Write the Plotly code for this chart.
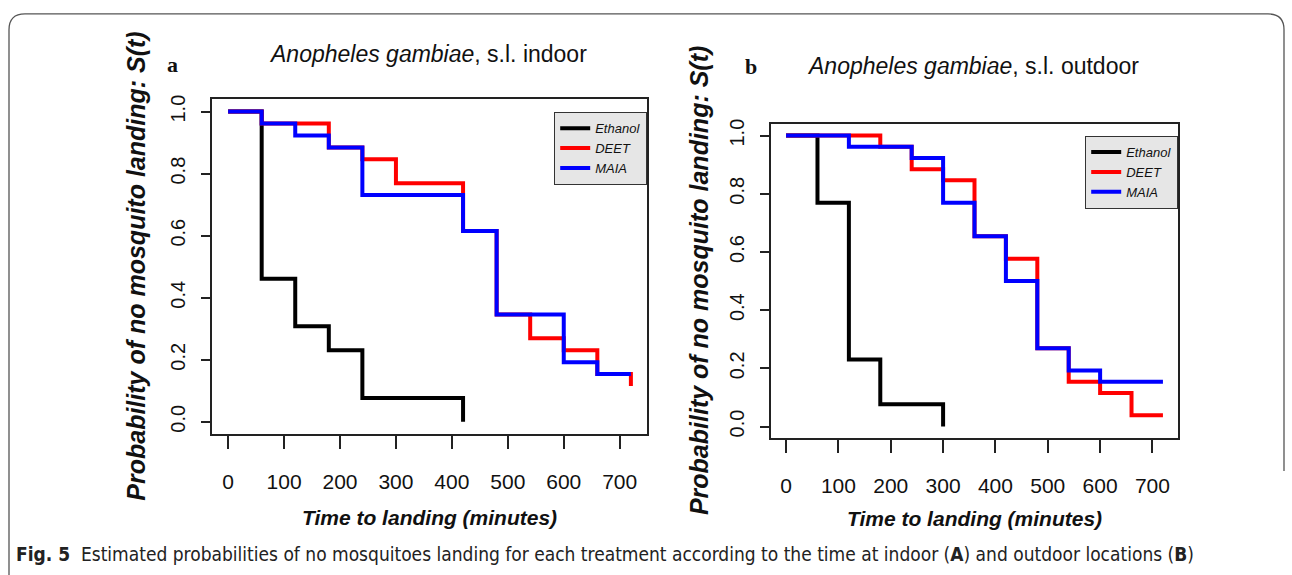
import plotly.graph_objects as go

W, H = 1292, 575

# ---------------- data (Kaplan-Meier step estimates) -------------
treatments = ["Ethanol", "DEET", "MAIA"]
colors = ["#000000", "#ff0000", "#0000ff"]

indoor_ethanol_t = [0, 60, 120, 180, 240, 420]
indoor_ethanol_s = [1.0, 0.4615, 0.3077, 0.2308, 0.0769, 0.0]
indoor_deet_t = [0, 60, 180, 240, 300, 420, 480, 540, 600, 660, 720]
indoor_deet_s = [1.0, 0.9615, 0.8846, 0.8462, 0.7692, 0.6154, 0.3462, 0.2692, 0.2308, 0.1538, 0.1154]
indoor_maia_t = [0, 60, 120, 180, 240, 420, 480, 600, 660, 720]
indoor_maia_s = [1.0, 0.9615, 0.9231, 0.8846, 0.7308, 0.6154, 0.3462, 0.1923, 0.1538, 0.1538]

outdoor_ethanol_t = [0, 60, 120, 180, 300]
outdoor_ethanol_s = [1.0, 0.7692, 0.2308, 0.0769, 0.0]
outdoor_deet_t = [0, 180, 240, 300, 360, 420, 480, 540, 600, 660, 720]
outdoor_deet_s = [1.0, 0.9615, 0.8846, 0.8462, 0.6538, 0.5769, 0.2692, 0.1538, 0.1154, 0.0385, 0.0385]
outdoor_maia_t = [0, 120, 240, 300, 360, 420, 480, 540, 600, 720]
outdoor_maia_s = [1.0, 0.9615, 0.9231, 0.7692, 0.6538, 0.5, 0.2692, 0.1923, 0.1538, 0.1538]

x_ticks = [0, 100, 200, 300, 400, 500, 600, 700]
x_tick_labels = ["0", "100", "200", "300", "400", "500", "600", "700"]
y_ticks = [0.0, 0.2, 0.4, 0.6, 0.8, 1.0]
y_tick_labels = ["0.0", "0.2", "0.4", "0.6", "0.8", "1.0"]

title_a = "<i>Anopheles gambiae</i>, s.l. indoor"
title_b = "<i>Anopheles gambiae</i>, s.l. outdoor"
x_title = "<b><i>Time to landing (minutes)</i></b>"
y_title = "<b><i>Probability of no mosquito landing: S(t)</i></b>"
caption = ("<b>Fig. 5</b>  Estimated probabilities of no mosquitoes landing for each treatment "
           "according to the time at indoor (<b>A</b>) and outdoor locations (<b>B</b>)")

# ---------------- layout helpers (pixel -> paper) ----------------
def px(x):
    return x / W

def py(y):
    return 1 - y / H

NARROW = "Liberation Sans Narrow, Arial Narrow, DejaVu Sans Condensed, Liberation Sans, sans-serif"
SANS = "Liberation Sans, Arial, Helvetica, sans-serif"
SERIF = "Liberation Serif, Times New Roman, serif"

panels = [
    dict(xa="x", ya="y", legend="legend",
         box=(212, 95, 647, 433), title=title_a, letter="a",
         title_xy=(428, 49), letter_xy=(172, 60), ytitle_x=136, xtitle_y=517,
         series=[(indoor_ethanol_t, indoor_ethanol_s),
                 (indoor_deet_t, indoor_deet_s),
                 (indoor_maia_t, indoor_maia_s)],
         legend_top=108),
    dict(xa="x2", ya="y2", legend="legend2",
         box=(771, 120, 1178, 437), title=title_b, letter="b",
         title_xy=(973, 62), letter_xy=(751, 62), ytitle_x=699, xtitle_y=518,
         series=[(outdoor_ethanol_t, outdoor_ethanol_s),
                 (outdoor_deet_t, outdoor_deet_s),
                 (outdoor_maia_t, outdoor_maia_s)],
         legend_top=132),
]

fig = go.Figure()
annotations = []
shapes = []
layout = {}

for p in panels:
    for (t, s), name, col in zip(p["series"], treatments, colors):
        fig.add_trace(go.Scatter(
            x=t, y=s, mode="lines", line=dict(color=col, width=4, shape="hv"),
            name="<i>%s</i>" % name, xaxis=p["xa"], yaxis=p["ya"], legend=p["legend"],
            hoverinfo="x+y+name"))
    x0, y0, x1, y1 = p["box"]
    xkey = "xaxis" if p["xa"] == "x" else "xaxis2"
    ykey = "yaxis" if p["ya"] == "y" else "yaxis2"
    layout[xkey] = dict(
        domain=[px(x0), px(x1)], range=[-28.8, 748.8], anchor=p["ya"],
        tickmode="array", tickvals=x_ticks, ticktext=x_tick_labels,
        ticks="outside", ticklen=13, tickwidth=1.5, tickcolor="#222",
        showline=True, linecolor="#222", linewidth=1.6, mirror=True,
        showgrid=False, zeroline=False, ticklabelstandoff=15,
        tickfont=dict(family=SANS, size=21, color="#111"))
    layout[ykey] = dict(
        domain=[py(y1), py(y0)], range=[-0.04, 1.04], anchor=p["xa"],
        tickmode="array", tickvals=y_ticks, ticktext=y_tick_labels,
        ticks="outside", ticklen=9, tickwidth=1.5, tickcolor="#222",
        showline=True, linecolor="#222", linewidth=1.6, mirror=True,
        showgrid=False, zeroline=False, tickangle=-90, ticklabelstandoff=8,
        tickfont=dict(family=SANS, size=20, color="#111"))
    layout[p["legend"]] = dict(
        x=px(x1), xanchor="right", y=py(p["legend_top"]), yanchor="top",
        bgcolor="#e6e6e6", bordercolor="#333", borderwidth=1.2,
        font=dict(family=SANS, size=13, color="#111"),
        itemwidth=30, tracegroupgap=0, traceorder="normal")
    cx = (x0 + x1) / 2
    cy = (y0 + y1) / 2
    annotations += [
        dict(text=p["title"], x=px(p["title_xy"][0]), y=py(p["title_xy"][1]),
             xref="paper", yref="paper", showarrow=False, xanchor="center", yanchor="middle",
             font=dict(family=SANS, size=23, color="#111")),
        dict(text="<b>%s</b>" % p["letter"], x=px(p["letter_xy"][0]), y=py(p["letter_xy"][1]),
             xref="paper", yref="paper", showarrow=False, xanchor="center", yanchor="middle",
             font=dict(family=SERIF, size=22, color="#111")),
        dict(text=x_title, x=px(cx), y=py(p["xtitle_y"]),
             xref="paper", yref="paper", showarrow=False, xanchor="center", yanchor="middle",
             font=dict(family=SANS, size=21, color="#111")),
        dict(text=y_title, x=px(p["ytitle_x"]), y=py(cy), textangle=-90,
             xref="paper", yref="paper", showarrow=False, xanchor="center", yanchor="middle",
             font=dict(family=SANS, size=25, color="#111")),
    ]

annotations.append(dict(text=caption, x=px(14), y=py(554), xref="paper", yref="paper",
                        showarrow=False, xanchor="left", yanchor="middle",
                        font=dict(family=NARROW, size=19, color="#222")))

# figure frame (rounded top corners)
r = 16
path = ("M %f,%f L %f,%f Q %f,%f %f,%f L %f,%f Q %f,%f %f,%f L %f,%f" % (
    px(9), py(575), px(9), py(9 + r), px(9), py(9), px(9 + r), py(9),
    px(1284 - r), py(9), px(1284), py(9), px(1284), py(9 + r), px(1284), py(470)))
shapes.append(dict(type="path", path=path, xref="paper", yref="paper",
                   line=dict(color="#555", width=1.3)))

fig.update_layout(
    width=W, height=H, margin=dict(l=0, r=0, t=0, b=0),
    paper_bgcolor="white", plot_bgcolor="white",
    annotations=annotations, shapes=shapes, showlegend=True, **layout)

fig.write_html("out.html", config={"displayModeBar": False},
               post_script="document.body.style.margin='0';")
